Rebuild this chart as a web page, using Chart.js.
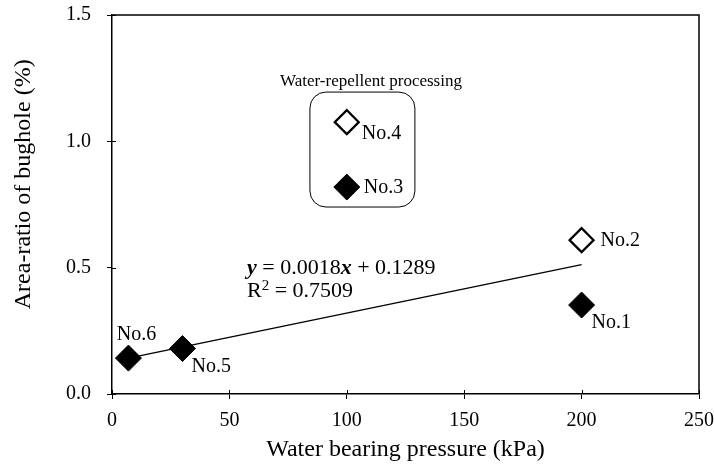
<!DOCTYPE html>
<html>
<head>
<meta charset="utf-8">
<script src="https://cdn.jsdelivr.net/npm/chart.js@4.4.1/dist/chart.umd.min.js"></script>
<style>
html,body{margin:0;padding:0;background:#fff;}
#wrap{width:714px;height:467px;}
</style>
</head>
<body>
<div id="wrap"><canvas id="c" width="714" height="467"></canvas></div>
<script>
// ---- data ----
const pointLabels = ['No.1', 'No.2', 'No.3', 'No.4', 'No.5', 'No.6'];
const pressure    = [200, 200, 100, 100, 30, 7];
const areaRatio   = [0.352, 0.609, 0.819, 1.076, 0.18, 0.142];
const openMarker  = [false, true, false, true, false, false];
const trendX = [7, 200];
const trendY = [0.142, 0.512];
const xTicks = [0, 50, 100, 150, 200, 250];
const yTicks = [0.0, 0.5, 1.0, 1.5];
const equationText = ['0.0018', '0.1289'];
const r2Text = '0.7509';
const groupCaption = 'Water-repellent processing';
const xTitle = 'Water bearing pressure (kPa)';
const yTitle = 'Area-ratio of bughole (%)';

const SERIF = '"Liberation Serif", "Times New Roman", serif';

// label offsets (pixels from the marker) - styling only
const labelOffsets = [[10, 18], [19, 1], [17, 1], [15, 12], [9, 18], [-11, -23]];

const annotPlugin = {
  id: 'annot',
  afterDatasetsDraw(chart) {
    const ctx = chart.ctx;
    const xs = chart.scales.x, ys = chart.scales.y;
    const a = chart.chartArea;
    ctx.save();
    ctx.strokeStyle = '#000';
    ctx.lineWidth = 1;
    xTicks.forEach(v => {
      const px = Math.round(xs.getPixelForValue(v)) + 0.5;
      ctx.beginPath(); ctx.moveTo(px, a.bottom); ctx.lineTo(px, a.bottom - 4); ctx.stroke();
    });
    yTicks.forEach(v => {
      const py = Math.round(ys.getPixelForValue(v)) + 0.5;
      ctx.beginPath(); ctx.moveTo(a.left, py); ctx.lineTo(a.left + 4, py); ctx.stroke();
    });
    ctx.lineWidth = 1.5;
    ctx.beginPath();
    ctx.moveTo(a.left, a.top); ctx.lineTo(a.right, a.top); ctx.lineTo(a.right, a.bottom);
    ctx.stroke();

    // y-axis title (slightly above the plot centre, as in the original)
    ctx.fillStyle = '#000';
    ctx.save();
    ctx.translate(24, ys.getPixelForValue(0.83));
    ctx.rotate(-Math.PI / 2);
    ctx.font = '24px ' + SERIF;
    ctx.textAlign = 'center';
    ctx.textBaseline = 'middle';
    ctx.fillText(yTitle, 0, 0);
    ctx.restore();

    ctx.font = '20px ' + SERIF;
    ctx.textBaseline = 'middle';
    pointLabels.forEach((lab, i) => {
      const px = xs.getPixelForValue(pressure[i]);
      const py = ys.getPixelForValue(areaRatio[i]);
      const [dx, dy] = labelOffsets[i];
      if (dx < 0) {
        ctx.textAlign = 'center';
        ctx.fillText(lab, px + 8, py + dy);
      } else {
        ctx.textAlign = 'left';
        ctx.fillText(lab, px + dx, py + dy);
      }
    });

    ctx.textAlign = 'center';
    ctx.font = '17px ' + SERIF;
    ctx.fillText(groupCaption, xs.getPixelForValue(110.3), ys.getPixelForValue(1.236));
    const bx1 = xs.getPixelForValue(84.3), bx2 = xs.getPixelForValue(129.0);
    const by1 = ys.getPixelForValue(1.195), by2 = ys.getPixelForValue(0.74);
    ctx.lineWidth = 1;
    ctx.beginPath();
    ctx.roundRect(bx1, by1, bx2 - bx1, by2 - by1, 16);
    ctx.stroke();

    let ex = xs.getPixelForValue(57.5);
    const ey1 = ys.getPixelForValue(0.497);
    const ey2 = ys.getPixelForValue(0.405);
    ctx.textAlign = 'left';
    const seg = (txt, font, y) => { ctx.font = font; ctx.fillText(txt, ex, y); ex += ctx.measureText(txt).width; };
    const reg = '22px ' + SERIF, bi = 'italic bold 22px ' + SERIF;
    seg('y', bi, ey1);
    seg(' = ' + equationText[0], reg, ey1);
    seg('x', bi, ey1);
    seg(' + ' + equationText[1], reg, ey1);
    ex = xs.getPixelForValue(57.5);
    seg('R', reg, ey2);
    seg('2', '15px ' + SERIF, ey2 - 6);
    seg(' = ' + r2Text, reg, ey2);
    ctx.restore();
  }
};

const scatterPts = pressure.map((x, i) => ({x: x, y: areaRatio[i]}));
const trendPts = trendX.map((x, i) => ({x: x, y: trendY[i]}));

new Chart(document.getElementById('c'), {
  type: 'scatter',
  data: {
    datasets: [
      {
        label: 'samples',
        data: scatterPts,
        pointStyle: 'rectRot',
        pointRadius: openMarker.map(o => o ? 12 : 13),
        pointHoverRadius: openMarker.map(o => o ? 12 : 13),
        backgroundColor: openMarker.map(o => o ? '#fff' : '#000'),
        borderColor: '#000',
        borderWidth: openMarker.map(o => o ? 2.2 : 1),
        order: 0
      },
      {
        label: 'trend',
        type: 'line',
        data: trendPts,
        borderColor: '#000',
        borderWidth: 1.5,
        pointRadius: 0,
        fill: false,
        order: 1
      }
    ]
  },
  options: {
    responsive: false,
    animation: false,
    events: [],
    layout: {padding: {top: 15, right: 15, left: 0, bottom: 0}},
    plugins: {legend: {display: false}, tooltip: {enabled: false}},
    scales: {
      x: {
        type: 'linear', min: 0, max: 250,
        afterBuildTicks: s => { s.ticks = xTicks.map(v => ({value: v})); },
        afterFit: s => { s.height = 73; s.paddingLeft = 0; s.paddingRight = 0; },
        ticks: {color: '#000', font: {family: SERIF, size: 20}, padding: 10, maxRotation: 0,
                callback: v => String(v)},
        grid: {display: true, drawOnChartArea: false, color: '#000', tickLength: 5, lineWidth: 1},
        border: {display: true, color: '#000', width: 1.5},
        title: {display: true, text: xTitle, color: '#000', font: {family: SERIF, size: 24}, padding: {top: 0, bottom: 3}}
      },
      y: {
        type: 'linear', min: 0, max: 1.5,
        afterBuildTicks: s => { s.ticks = yTicks.map(v => ({value: v})); },
        afterFit: s => { s.width = 112; s.paddingTop = 0; s.paddingBottom = 0; },
        ticks: {color: '#000', font: {family: SERIF, size: 20}, padding: 16,
                callback: v => v.toFixed(1)},
        grid: {display: true, drawOnChartArea: false, color: '#000', tickLength: 5, lineWidth: 1},
        border: {display: true, color: '#000', width: 1.5},
        title: {display: false, text: yTitle}
      }
    }
  },
  plugins: [annotPlugin]
});
</script>
</body>
</html>
